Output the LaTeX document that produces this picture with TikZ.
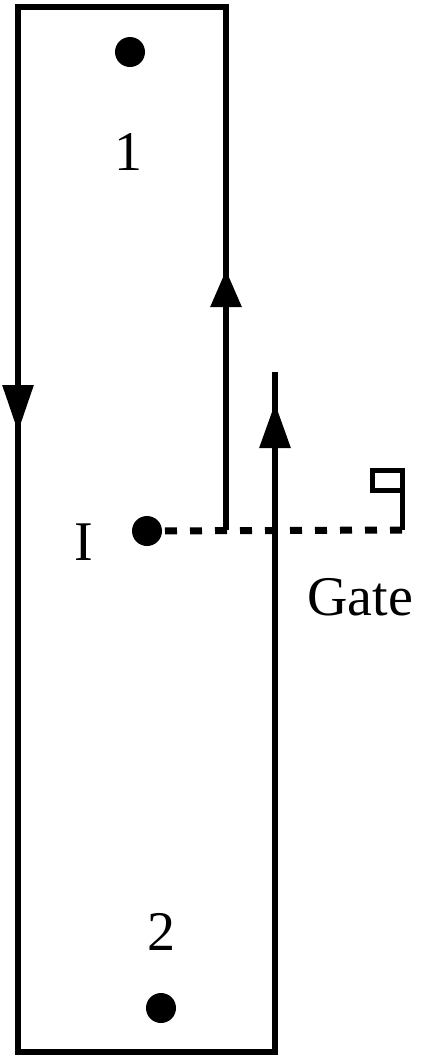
\documentclass[tikz,border=0pt]{standalone}
\usepackage{fontspec}
\setmainfont{Liberation Serif}
\usetikzlibrary{arrows.meta}
\tikzset{tip/.style={-{Triangle[length=#1, width=15pt]}}}

\begin{document}
\begin{tikzpicture}
	[x=0.5pt, y=-0.5pt, line width=3pt,
	dot/.style={circle, fill, inner sep=0pt, minimum size=15pt},
	lbl/.style={anchor=base, inner sep=0pt, font=\fontsize{28}{32}\selectfont}]
	\useasboundingbox (0,0) rectangle (421,1061);
	\node[dot] (s1) at (130,52) {};
	\node[dot] (sI) at (147,531) {};
	\node[dot] (s2) at (161,1008) {};
	\node[lbl] (l1) at (128,170) {1};
	\node[lbl] (lI) at (84,560) {I};
	\node[lbl] (l2) at (161,950) {2};
	\node[lbl] (lgate) at (360,615) {Gate};
	\coordinate (join) at (226,530);
	\coordinate (gate) at (402,530);
	% loop round the two wells
	\draw (join) -- (226,7) -- (18,7) -- (18,1052) -- (275,1052) -- (275,372);
	\draw[tip=18.5pt] (226,310) -- (226,270);
	\draw[tip=22.5pt] (275,450) -- (275,403);
	\draw[tip=23.5pt] (18,385) -- (18,432);
	% gate
	\draw[line width=3.5pt, dash pattern=on 6pt off 6.5pt] (sI) -- (gate);
	\draw[line width=2.5pt] (gate) -- (402,470) -- (372,470) -- (372,490) -- (402,490);
\end{tikzpicture}
\end{document}
